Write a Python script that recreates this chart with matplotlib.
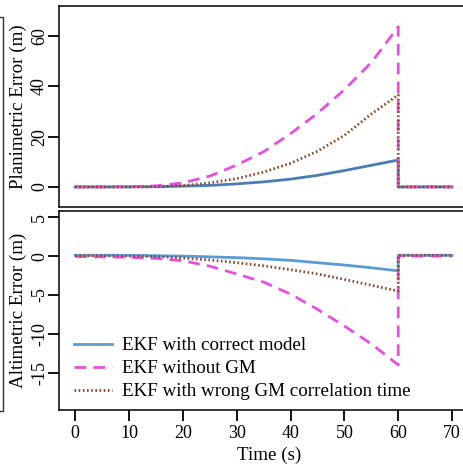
import numpy as np
import matplotlib
matplotlib.use("Agg")
import matplotlib.pyplot as plt
from matplotlib.lines import Line2D

plt.rcParams['font.family'] = ['Liberation Serif', 'DejaVu Serif']
plt.rcParams['font.size'] = 13.7

# time samples (s); the step back to zero happens at t = 60
t = [0, 5, 10, 15, 20, 25, 30, 35, 40, 45, 50, 55, 60, 60, 65, 70]

# planimetric error (m)
plan_correct = [0, 0, 0, 0.1, 0.3, 0.6, 1.2, 2.0, 3.1, 4.6, 6.5, 8.6, 10.7, 0, 0, 0]
plan_no_gm = [0, 0, 0.1, 0.4, 1.6, 4.3, 8.7, 14.0, 21.2, 29.3, 38.7, 49.5, 63.7, 0, 0, 0]
plan_wrong_tau = [0, 0, 0, 0.1, 0.5, 1.6, 3.3, 5.9, 9.4, 14.2, 20.5, 29.0, 36.6, 0, 0, 0]

# altimetric error (m)
alt_correct = [0.1, 0.1, 0.1, 0.05, 0, -0.1, -0.2, -0.35, -0.55, -0.85, -1.15, -1.5, -1.9, 0.1, 0.1, 0.1]
alt_no_gm = [-0.05, -0.1, -0.15, -0.3, -0.6, -1.3, -2.3, -3.35, -4.9, -6.85, -9.0, -11.3, -14.0, 0, 0, 0]
alt_wrong_tau = [0.05, 0.05, 0, -0.05, -0.25, -0.5, -0.85, -1.25, -1.75, -2.3, -3.0, -3.75, -4.5, 0.1, 0.1, 0.1]

labels = ["EKF with correct model", "EKF without GM",
          "EKF with wrong GM correlation time"]

blue_top = '#4a7db3'
blue_bot = '#5b9bd5'
magenta = '#e84fe0'
brown = '#8b4b2a'
dash = (0, (4.2, 2.6))
dots = (0, (0.6, 0.9))

W, H = 463, 470
fig = plt.figure(figsize=(W / 100, H / 100), dpi=100)

# axes run off the right side of the canvas
left = 59 / W
width = (479 - 59) / W
ax1 = fig.add_axes([left, 1 - 207 / H, width, (207 - 6) / H])
ax2 = fig.add_axes([left, 1 - 410 / H, width, (410 - 211) / H])

ax1.plot(t, plan_correct, color=blue_top, lw=2, label=labels[0])
ax1.plot(t, plan_no_gm, color=magenta, lw=2, ls=dash, label=labels[1])
ax1.plot(t, plan_wrong_tau, color=brown, lw=2, ls=dots, label=labels[2])

ax2.plot(t, alt_correct, color=blue_bot, lw=2, label=labels[0])
ax2.plot(t, alt_no_gm, color=magenta, lw=2, ls=dash, label=labels[1])
ax2.plot(t, alt_wrong_tau, color=brown, lw=2, ls=dots, label=labels[2])

ax1.set_ylim(-8, 72)
ax1.set_yticks([0, 20, 40, 60])
ax1.set_xticks([])
ax1.set_ylabel("Planimetric Error (m)")

ax2.set_ylim(-19.8, 5.8)
ax2.set_yticks([5, 0, -5, -10, -15])
ax2.set_yticklabels(['5', '0', '-5', '-10', '-15'])
ax2.set_xticks(np.arange(0, 71, 10))
ax2.tick_params(axis='x', direction='out', length=8, width=1.3, pad=2.5,
                labelsize=13)
ax2.set_ylabel("Altimetric Error (m)")
ax2.set_xlabel("Time (s)", labelpad=4)

for ax in (ax1, ax2):
    ax.set_xlim(-3, 75)
    for s in ax.spines.values():
        s.set_linewidth(1.1)
    ax.tick_params(axis='y', direction='out', length=8, width=1.3, pad=0,
                   labelrotation=90, labelsize=13)
    for lab in ax.get_yticklabels():
        lab.set_va('center')
    ax.yaxis.set_label_coords(-0.075, 0.5)

ax2.legend(loc='lower left', bbox_to_anchor=(0.014, 0.0), frameon=False,
           handlelength=2.0, handletextpad=0.5, labelspacing=0.3,
           borderaxespad=0.1, fontsize=13.7)

# edge of the surrounding panel box
fig.add_artist(Line2D([0, 3 / W, 3 / W, 0],
                      [1 - 17 / H, 1 - 17 / H, 1 - 411 / H, 1 - 411 / H],
                      transform=fig.transFigure, color='#333333', lw=1))

fig.savefig("out.png", dpi=100)
